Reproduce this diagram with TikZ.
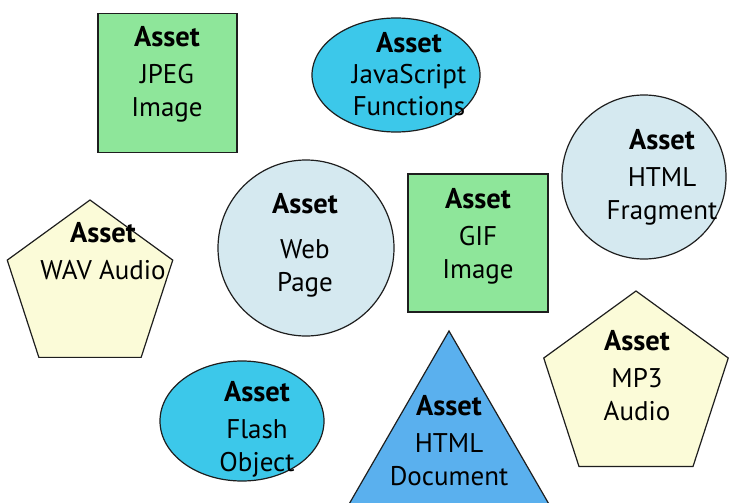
\documentclass[tikz,border=0pt]{standalone}
\usepackage{fontspec}
\setmainfont{PT Sans}
\usetikzlibrary{shapes.geometric}

\definecolor{assetgreen}{RGB}{142,230,154}
\definecolor{assetcyan}{RGB}{60,200,234}
\definecolor{assetpale}{RGB}{213,233,240}
\definecolor{assetcream}{RGB}{251,251,216}
\definecolor{assetblue}{RGB}{90,176,238}
\definecolor{edge}{RGB}{30,30,30}

\tikzset{
  shapebase/.style={draw=edge, line width=1.2pt, inner sep=0pt},
  squarebox/.style={shapebase, rectangle, fill=assetgreen, minimum width=139pt, minimum height=139pt},
  roundbox/.style={shapebase, circle, fill=assetpale},
  ovalbox/.style={shapebase, ellipse, fill=assetcyan},
  pentbox/.style={shapebase, regular polygon, regular polygon sides=5, fill=assetcream},
  tribox/.style={shapebase, regular polygon, regular polygon sides=3, fill=assetblue},
  lbl/.style={align=center, font=\fontsize{27pt}{33pt}\selectfont, text=black, inner sep=0pt}
}
% bold heading line, with an optional extra gap below it
\newcommand{\assethead}[1][4pt]{{\fontsize{28.5pt}{33pt}\selectfont\textbf{Asset}}\\[#1]}

\begin{document}
\begin{tikzpicture}[x=1pt,y=-1pt]
\useasboundingbox (0,0) rectangle (731,503);
\clip (0,0) rectangle (731,503);
\fill[white] (0,0) rectangle (731,503);

% green squares
\node[squarebox] (jpeg) at (167.5,83) {};
\node[lbl] (jpegT) at (167,74) {\assethead JPEG\\Image};

\node[squarebox, minimum width=140pt, minimum height=138pt] (gif) at (478,243) {};
\node[lbl] (gifT) at (478,236) {\assethead GIF\\Image};

% cyan ellipses
\node[ovalbox, minimum width=168pt, minimum height=114pt] (js) at (396,75) {};
\node[lbl, font=\fontsize{27pt}{32pt}\selectfont] (jsT) at (409,74) {\assethead[-1pt] JavaScript\\Functions};

\node[ovalbox, minimum width=164pt, minimum height=120pt] (flash) at (242,421) {};
\node[lbl] (flashT) at (257,429) {\assethead Flash\\Object};

% pale blue circles
\node[roundbox, minimum size=164pt] (frag) at (644,177) {};
\node[lbl] (fragT) at (662,177) {\assethead HTML\\Fragment};

\node[roundbox, minimum size=176pt] (web) at (306,248) {};
\node[lbl] (webT) at (305,245) {\assethead[12pt] Web\\Page};

% cream pentagons
\node[pentbox, minimum size=174pt] (wav) at (90,287) {};
\node[lbl] (wavT) at (103,251) {\assethead WAV Audio};

\node[pentbox, minimum size=194pt] (mp3) at (636,388) {};
\node[lbl] (mp3T) at (637,376) {\assethead MP3\\Audio};

% blue triangle running off the bottom edge
\node[tribox, minimum size=260pt] (doc) at (449,461) {};
\node[lbl] (docT) at (449,441) {\assethead HTML\\Document};
\end{tikzpicture}
\end{document}
